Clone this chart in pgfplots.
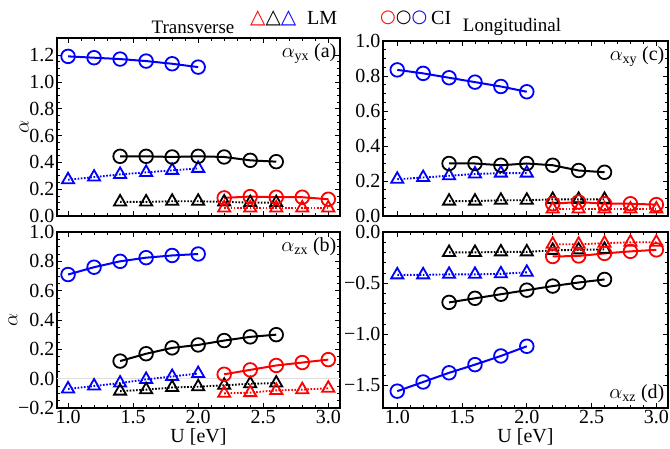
\documentclass[border=0pt]{standalone}
\usepackage{pgfplots}
\pgfplotsset{compat=1.18}
\usepackage{fontspec}
\setmainfont{Liberation Serif}
\newfontfamily\symb{DejaVu Sans Bold}

\definecolor{ured}{RGB}{255,0,0}
\definecolor{ublue}{RGB}{0,0,255}

\tikzset{note/.style={font=\fontsize{20}{22}\selectfont, inner sep=2pt}}

\pgfplotsset{
  panel/.style={
    scale only axis,
    anchor=north west,
    clip=false,
    axis line style={line width=1.2pt},
    tick align=inside,
    major tick length=5pt,
    minor tick length=3pt,
    every tick/.style={black, line width=0.6pt},
    xtick={1,1.5,...,3},
    minor x tick num=4,
    minor y tick num=3,
    tick label style={font=\fontsize{20}{22}\selectfont},
    label style={font=\fontsize{20}{22}\selectfont},
    ylabel shift=-6pt,
    xlabel shift=-2pt,
    /pgf/number format/assume math mode=true,
    /pgf/number format/.cd, fixed, fixed zerofill, precision=1, /pgfplots/.cd,
    yticklabel style={xshift=1pt},
    xticklabel style={yshift=1pt},
  },
  lm/.style={line width=1.9pt, dash pattern=on 1.6pt off 1.6pt,
    mark=triangle, mark size=7pt, mark options={solid, fill=white, line width=1.8pt}},
  ci/.style={line width=2pt, mark=o, mark size=6.8pt,
    mark options={solid, fill=white, line width=1.8pt}},
}

\begin{document}
\begin{tikzpicture}
\path[use as bounding box] (0,0) rectangle (670pt,-449pt);

% (a) transverse yx
\begin{axis}[panel, at={(57pt,-38pt)}, width=283pt, height=178pt,
  xmin=0.915, xmax=3.09, ymin=0, ymax=1.327,
  ytick={0,0.2,...,1.2}, xticklabels={},
  ylabel={$\alpha$}]
\addplot[lm, ublue] coordinates {(1.0,0.27)(1.2,0.29)(1.4,0.31)(1.6,0.325)(1.8,0.34)(2.0,0.355)};
\addplot[lm, black] coordinates {(1.4,0.105)(1.6,0.105)(1.8,0.11)(2.0,0.11)(2.2,0.105)(2.4,0.10)(2.6,0.10)};
\addplot[lm, ured] coordinates {(2.2,0.06)(2.4,0.06)(2.6,0.06)(2.8,0.06)(3.0,0.06)};
\addplot[ci, ublue] coordinates {(1.0,1.19)(1.2,1.18)(1.4,1.17)(1.6,1.155)(1.8,1.135)(2.0,1.11)};
\addplot[ci, black] coordinates {(1.4,0.445)(1.6,0.445)(1.8,0.44)(2.0,0.445)(2.2,0.44)(2.4,0.415)(2.6,0.405)};
\addplot[ci, ured] coordinates {(2.2,0.135)(2.4,0.145)(2.6,0.14)(2.8,0.14)(3.0,0.125)};
\node[note, anchor=north east] at (rel axis cs:0.995,0.98) {$\alpha_{\mathrm{yx}}$ (a)};
\end{axis}

% (b) transverse zx
\begin{axis}[panel, at={(57pt,-232pt)}, width=283pt, height=176pt,
  xmin=0.915, xmax=3.09, ymin=-0.2, ymax=1.0,
  ytick={-0.2,0,0.2,0.4,0.6,0.8,1.0},
  yticklabels={−0.2,0.0,0.2,0.4,0.6,0.8,1.0},
  xlabel={U [eV]}, ylabel={$\alpha$}]
\addplot[gray!25, line width=0.6pt, forget plot] coordinates {(0.915,0)(3.09,0)};
\addplot[lm, ublue] coordinates {(1.0,-0.07)(1.2,-0.05)(1.4,-0.03)(1.6,-0.005)(1.8,0.015)(2.0,0.035)};
\addplot[lm, black] coordinates {(1.4,-0.085)(1.6,-0.075)(1.8,-0.06)(2.0,-0.055)(2.2,-0.045)(2.4,-0.035)(2.6,-0.03)};
\addplot[lm, ured] coordinates {(2.2,-0.1)(2.4,-0.095)(2.6,-0.08)(2.8,-0.075)(3.0,-0.065)};
\addplot[ci, ublue] coordinates {(1.0,0.71)(1.2,0.76)(1.4,0.80)(1.6,0.825)(1.8,0.84)(2.0,0.85)};
\addplot[ci, black] coordinates {(1.4,0.12)(1.6,0.17)(1.8,0.21)(2.0,0.23)(2.2,0.26)(2.4,0.285)(2.6,0.30)};
\addplot[ci, ured] coordinates {(2.2,0.03)(2.4,0.06)(2.6,0.09)(2.8,0.11)(3.0,0.13)};
\node[note, anchor=north east] at (rel axis cs:0.995,0.98) {$\alpha_{\mathrm{zx}}$ (b)};
\end{axis}

% (c) longitudinal xy
\begin{axis}[panel, at={(383pt,-41pt)}, width=285pt, height=175pt,
  xmin=0.89, xmax=3.09, ymin=0, ymax=1.0,
  ytick={0,0.2,...,1.0}, xticklabels={}]
\addplot[lm, ublue] coordinates {(1.0,0.21)(1.2,0.22)(1.4,0.23)(1.6,0.24)(1.8,0.245)(2.0,0.245)};
\addplot[lm, black] coordinates {(1.4,0.085)(1.6,0.085)(1.8,0.09)(2.0,0.09)(2.2,0.095)(2.4,0.095)(2.6,0.095)};
\addplot[lm, ured] coordinates {(2.2,0.04)(2.4,0.04)(2.6,0.04)(2.8,0.04)(3.0,0.04)};
\addplot[ci, ublue] coordinates {(1.0,0.835)(1.2,0.815)(1.4,0.79)(1.6,0.765)(1.8,0.74)(2.0,0.71)};
\addplot[ci, black] coordinates {(1.4,0.30)(1.6,0.30)(1.8,0.29)(2.0,0.30)(2.2,0.29)(2.4,0.26)(2.6,0.25)};
\addplot[ci, ured] coordinates {(2.2,0.07)(2.4,0.08)(2.6,0.07)(2.8,0.07)(3.0,0.065)};
\node[note, anchor=north east] at (rel axis cs:0.995,0.98) {$\alpha_{\mathrm{xy}}$ (c)};
\end{axis}

% (d) longitudinal xz
\begin{axis}[panel, at={(383pt,-232pt)}, width=285pt, height=176pt,
  xmin=0.89, xmax=3.09, ymin=-1.725, ymax=0,
  ytick={-1.5,-1,-0.5,0},
  yticklabels={−1.5,−1.0,−0.5,0.0},
  minor y tick num=4,
  xlabel={U [eV]}]
\addplot[lm, ublue] coordinates {(1.0,-0.42)(1.2,-0.42)(1.4,-0.415)(1.6,-0.415)(1.8,-0.41)(2.0,-0.395)};
\addplot[lm, black] coordinates {(1.4,-0.2)(1.6,-0.2)(1.8,-0.195)(2.0,-0.195)(2.2,-0.18)(2.4,-0.175)(2.6,-0.17)};
\addplot[lm, ured] coordinates {(2.2,-0.12)(2.4,-0.12)(2.6,-0.11)(2.8,-0.10)(3.0,-0.10)};
\addplot[ci, ublue] coordinates {(1.0,-1.56)(1.2,-1.47)(1.4,-1.38)(1.6,-1.30)(1.8,-1.215)(2.0,-1.12)};
\addplot[ci, black] coordinates {(1.4,-0.69)(1.6,-0.65)(1.8,-0.61)(2.0,-0.57)(2.2,-0.53)(2.4,-0.495)(2.6,-0.465)};
\addplot[ci, ured] coordinates {(2.2,-0.24)(2.4,-0.235)(2.6,-0.21)(2.8,-0.19)(3.0,-0.175)};
\node[note, anchor=south east] at (rel axis cs:0.995,0.02) {$\alpha_{\mathrm{xz}}$ (d)};
\end{axis}

% titles and legend
\node[font=\fontsize{19}{22}\selectfont] at (193pt,-27pt) {Transverse};
\node[font=\fontsize{19}{22}\selectfont] at (512pt,-27pt) {Longitudinal};
\node[anchor=west, inner sep=0pt, font=\symb\fontsize{20}{22}\selectfont] at (250pt,-18pt)
  {\textcolor{ured}{△}\textcolor{black}{△}\textcolor{ublue}{△}};
\node[anchor=west, inner sep=0pt, font=\fontsize{20}{22}\selectfont] at (307pt,-18pt) {LM};
\node[anchor=west, inner sep=0pt, font=\symb\fontsize{18}{20}\selectfont] at (380pt,-18pt)
  {\textcolor{ured}{○}\textcolor{black}{○}\textcolor{ublue}{○}};
\node[anchor=west, inner sep=0pt, font=\fontsize{20}{22}\selectfont] at (431pt,-18pt) {CI};
\end{tikzpicture}
\end{document}
